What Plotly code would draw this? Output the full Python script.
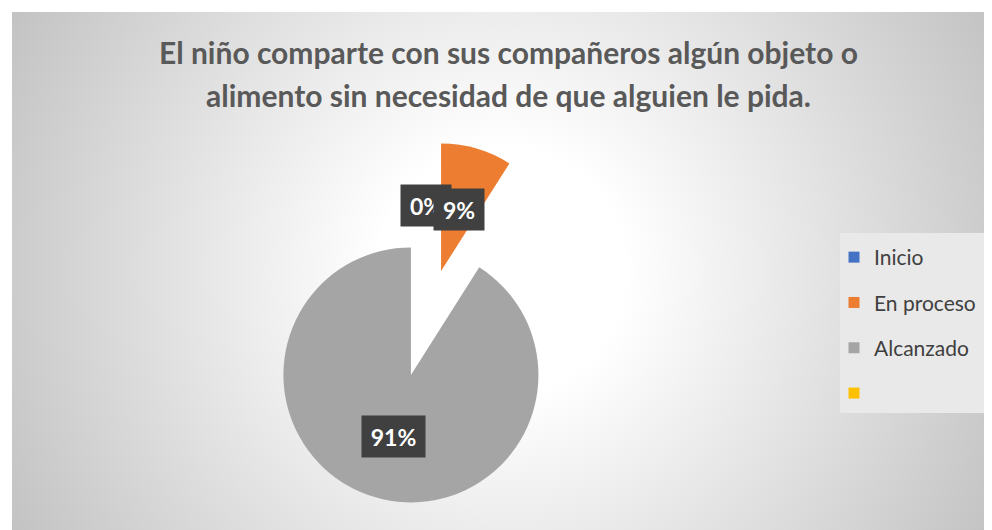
import base64
import math

import plotly.graph_objects as go

# datos
categorias = ["Inicio", "En proceso", "Alcanzado", ""]
porcentajes = [0, 9, 91, None]
colores = ["#4472C4", "#ED7D31", "#A5A5A5", "#FFC000"]
titulo_1 = "El niño comparte con sus compañeros algún objeto o"
titulo_2 = "alimento sin necesidad de que alguien le pida."

W, H = 992, 530
OFF = 8        # margen del <body> en la pagina
MARGEN = 12    # borde blanco arriba / izquierda (en pantalla)


def px(x, y):
    """coordenadas de pantalla -> coordenadas paper"""
    return (x - OFF) / W, 1 - (y - OFF) / H


# geometria del pastel (px de pantalla)
CX, CY = 426, 323
RADIO = 127.5
PULL = 0.424
LADO = 2 * RADIO * (1 + PULL)

cxp, cyp = px(CX, CY)
dom_x = [cxp - LADO / 2 / W, cxp + LADO / 2 / W]
dom_y = [cyp - LADO / 2 / H, cyp + LADO / 2 / H]

# fondo con degradado radial (como en Excel)
bw, bh = 992 - MARGEN, 530 - MARGEN
svg = (
    f'<svg xmlns="http://www.w3.org/2000/svg" width="{bw}" height="{bh}" '
    f'viewBox="0 0 {bw} {bh}" preserveAspectRatio="none"><defs>'
    f'<radialGradient id="g" gradientUnits="userSpaceOnUse" cx="{bw / 2}" '
    f'cy="{bh / 2}" r="560"><stop offset="0" stop-color="#ffffff"/>'
    f'<stop offset="0.22" stop-color="#ffffff"/>'
    f'<stop offset="1" stop-color="#c2c2c2"/></radialGradient></defs>'
    f'<rect width="{bw}" height="{bh}" fill="url(#g)"/></svg>'
)
fondo = "data:image/svg+xml;base64," + base64.b64encode(svg.encode()).decode()

fig = go.Figure()

# pastel
pie_labels = [c for c, v in zip(categorias, porcentajes) if v is not None]
pie_values = [v for v in porcentajes if v is not None]
fig.add_trace(
    go.Pie(
        labels=pie_labels,
        values=pie_values,
        marker=dict(colors=colores[: len(pie_values)], line=dict(width=0)),
        sort=False,
        direction="clockwise",
        rotation=0,
        pull=PULL,
        textinfo="none",
        hoverinfo="label+percent",
        showlegend=False,
        domain=dict(x=dom_x, y=dom_y),
    )
)

# leyenda (una entrada por categoria)
for nombre, color in zip(categorias, colores):
    fig.add_trace(
        go.Scatter(
            x=[None],
            y=[None],
            mode="markers",
            name=nombre,
            legendgroup=nombre or "vacio",
            marker=dict(symbol="square", size=11, color=color),
        )
    )

# etiquetas de datos (cajas oscuras)
total = sum(pie_values)
acum = 0
anotaciones = []
for v in pie_values:
    medio = (acum + v / 2) / total * 2 * math.pi
    acum += v
    dist = RADIO * PULL + RADIO * 0.5
    ex, ey = px(CX + dist * math.sin(medio), CY - dist * math.cos(medio))
    texto = f"{round(v / total * 100)}%"
    anotaciones.append(
        dict(
            x=ex,
            y=ey,
            xref="paper",
            yref="paper",
            xanchor="center",
            yanchor="middle",
            text=f"<b>{texto}</b>",
            showarrow=False,
            font=dict(family="Lato", size=23, color="#ffffff"),
            bgcolor="#404040",
            width=13 * len(texto) + 8,
            height=25,
            borderpad=8,
        )
    )

for i, linea in enumerate([titulo_1, titulo_2]):
    tx, ty = px(509, 52 + 43 * i)
    anotaciones.append(
        dict(
            x=tx,
            y=ty,
            xref="paper",
            yref="paper",
            xanchor="center",
            yanchor="middle",
            text=f"<b>{linea}</b>",
            showarrow=False,
            font=dict(family="Lato", size=30, color="#595959"),
        )
    )

img_x, img_y = px(MARGEN, MARGEN)
ley_x, ley_y = px(834, 237)
caja_x0, caja_y0 = px(840, 413)
caja_x1, caja_y1 = px(990, 233)

fig.update_layout(
    width=W,
    height=H,
    margin=dict(l=0, r=0, t=0, b=0),
    paper_bgcolor="#ffffff",
    plot_bgcolor="rgba(0,0,0,0)",
    xaxis=dict(visible=False),
    yaxis=dict(visible=False),
    annotations=anotaciones,
    images=[
        dict(
            source=fondo,
            xref="paper",
            yref="paper",
            x=img_x,
            y=img_y,
            sizex=bw / W,
            sizey=bh / H,
            xanchor="left",
            yanchor="top",
            sizing="stretch",
            layer="below",
        )
    ],
    shapes=[
        dict(
            type="rect",
            xref="paper",
            yref="paper",
            x0=caja_x0,
            x1=caja_x1,
            y0=caja_y0,
            y1=caja_y1,
            fillcolor="#e9e9e9",
            line=dict(width=0),
            layer="below",
        )
    ],
    legend=dict(
        x=ley_x,
        y=ley_y,
        xanchor="left",
        yanchor="top",
        bgcolor="rgba(0,0,0,0)",
        traceorder="grouped",
        tracegroupgap=15,
        font=dict(family="Lato", size=21, color="#404040"),
    ),
    showlegend=True,
)

fig.write_html("out.html")
